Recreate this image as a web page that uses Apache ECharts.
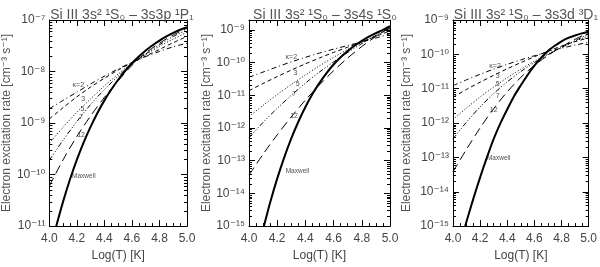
<!DOCTYPE html>
<html><head><meta charset="utf-8">
<script src="https://cdn.jsdelivr.net/npm/echarts@6/dist/echarts.min.js"></script>
<style>html,body{margin:0;padding:0;background:#fff}#c{width:600px;height:267px}</style>
</head><body><div id="c"></div>
<script>
// ---- data (log10 of rate, cm^-3 s^-1) ----
const logTk = [4.0,4.1,4.2,4.3,4.4,4.5,4.6,4.7,4.8,4.9,5.0];

// Panel 1: Si III 3s2 1S0 - 3s3p 1P1
const p1_k2  = [-8.72,-8.56,-8.40,-8.24,-8.09,-7.95,-7.82,-7.71,-7.61,-7.52,-7.45];
const p1_k3  = [-8.92,-8.70,-8.49,-8.30,-8.13,-7.97,-7.83,-7.70,-7.57,-7.44,-7.32];
const p1_k5  = [-9.39,-9.08,-8.79,-8.53,-8.28,-8.05,-7.84,-7.67,-7.51,-7.37,-7.24];
const p1_k7  = [-9.72,-9.33,-8.97,-8.64,-8.35,-8.09,-7.85,-7.66,-7.48,-7.32,-7.19];
const p1_k12 = [-10.22,-9.71,-9.26,-8.86,-8.50,-8.18,-7.88,-7.64,-7.45,-7.29,-7.16];
const p1_mT  = [4.05,4.10,4.15,4.20,4.25,4.30,4.35,4.40,4.45,4.50,4.55,4.60,4.65,4.70,4.75,4.80,4.85,4.90,4.95,5.00];
const p1_mx  = [-11.00,-10.52,-10.09,-9.71,-9.37,-9.07,-8.80,-8.56,-8.35,-8.16,-7.99,-7.84,-7.71,-7.59,-7.49,-7.40,-7.32,-7.25,-7.19,-7.14];

// Panel 2: Si III 3s2 1S0 - 3s4s 1S0
const p2_k2  = [-10.45,-10.29,-10.13,-9.98,-9.84,-9.71,-9.59,-9.48,-9.37,-9.25,-9.12];
const p2_k3  = [-10.86,-10.64,-10.43,-10.23,-10.04,-9.86,-9.69,-9.53,-9.37,-9.20,-9.03];
const p2_k5  = [-11.65,-11.31,-10.98,-10.67,-10.38,-10.10,-9.84,-9.60,-9.38,-9.17,-8.98];
const p2_k7  = [-12.30,-11.83,-11.40,-11.00,-10.63,-10.29,-9.98,-9.69,-9.42,-9.17,-8.95];
const p2_k12 = [-13.44,-12.80,-12.21,-11.66,-11.15,-10.68,-10.25,-9.86,-9.51,-9.20,-8.92];
const p2_mT  = [4.10,4.15,4.20,4.25,4.30,4.35,4.40,4.45,4.50,4.55,4.60,4.65,4.70,4.75,4.80,4.85,4.90,4.95,5.00];
const p2_mx  = [-15.10,-14.28,-13.55,-12.90,-12.32,-11.81,-11.36,-10.96,-10.62,-10.32,-10.06,-9.84,-9.65,-9.48,-9.34,-9.21,-9.10,-9.00,-8.89];

// Panel 3: Si III 3s2 1S0 - 3s3d 3D1
const p3_k2  = [-10.91,-10.74,-10.58,-10.43,-10.29,-10.16,-10.04,-9.92,-9.82,-9.73,-9.65];
const p3_k3  = [-11.25,-11.02,-10.81,-10.61,-10.42,-10.24,-10.07,-9.91,-9.76,-9.63,-9.52];
const p3_k5  = [-11.90,-11.56,-11.24,-10.95,-10.68,-10.43,-10.20,-9.99,-9.80,-9.62,-9.46];
const p3_k7  = [-12.46,-11.97,-11.53,-11.14,-10.80,-10.50,-10.24,-10.01,-9.80,-9.60,-9.41];
const p3_k12 = [-13.42,-12.76,-12.14,-11.58,-11.09,-10.67,-10.32,-10.03,-9.78,-9.56,-9.37];
const p3_mT  = [4.09,4.10,4.15,4.20,4.25,4.30,4.35,4.40,4.45,4.50,4.55,4.60,4.65,4.70,4.75,4.80,4.85,4.90,4.95,5.00];
const p3_mx  = [-15.00,-14.86,-14.20,-13.58,-13.00,-12.46,-12.00,-11.60,-11.22,-10.90,-10.60,-10.33,-10.10,-9.90,-9.75,-9.62,-9.52,-9.45,-9.39,-9.34];

// curve labels
const labelTexts = ['κ=2','3','5','7','12','Maxwell'];
const p1_lx = [4.21,4.245,4.24,4.23,4.23,4.165];
const p1_ly = [-8.27,-8.53,-8.73,-8.88,-9.24,-10.03];
const p2_lx = [4.30,4.33,4.345,4.32,4.32,4.26];
const p2_ly = [-9.82,-10.32,-10.66,-10.96,-11.64,-13.33];
const p3_lx = [4.31,4.33,4.33,4.33,4.30,4.25];
const p3_ly = [-10.35,-10.63,-10.87,-11.20,-11.61,-13.02];

const titles = ['Si III 3s² ¹S₀ – 3s3p ¹P₁','Si III 3s² ¹S₀ – 3s4s ¹S₀','Si III 3s² ¹S₀ – 3s3d ³D₁'];
const xTitle = 'Log(T) [K]';
const yTitle = 'Electron excitation rate [cm⁻³ s⁻¹]';
const yRanges = [[-11,-7],[-15,Math.log10(2e-9)],[-15,-9]];

// ---- layout / style ----
const grids = [
  {left:48, top:20, width:139, height:214},
  {left:249, top:20, width:141, height:214},
  {left:453, top:20, width:137, height:214}
];
const titleCenters = [117, 320, 521];
const nameGaps = [33, 36, 40];
const FONT = 'Liberation Sans, Arial, DejaVu Sans, sans-serif';
const SUP = {'-':'⁻','0':'⁰','1':'¹','2':'²','3':'³','4':'⁴','5':'⁵','6':'⁶','7':'⁷','8':'⁸','9':'⁹'};
function supFmt(v){
  if (Math.abs(v - Math.round(v)) > 1e-6) return '';
  return '10' + String(Math.round(v)).split('').map(c=>SUP[c]).join('');
}
const dashes = {k2:[5,3,1,3], k3:[4,3], k5:[1,2], k7:[5,2,1,2,1,2,1,2], k12:[9,5]};

const panels = [
  {k2:p1_k2,k3:p1_k3,k5:p1_k5,k7:p1_k7,k12:p1_k12,mT:p1_mT,mx:p1_mx,lx:p1_lx,ly:p1_ly},
  {k2:p2_k2,k3:p2_k3,k5:p2_k5,k7:p2_k7,k12:p2_k12,mT:p2_mT,mx:p2_mx,lx:p2_lx,ly:p2_ly},
  {k2:p3_k2,k3:p3_k3,k5:p3_k5,k7:p3_k7,k12:p3_k12,mT:p3_mT,mx:p3_mx,lx:p3_lx,ly:p3_ly}
];

const xAxis = [], yAxis = [], series = [], title = [];
panels.forEach((p, g) => {
  const [ymin, ymax] = yRanges[g];
  xAxis.push({type:'value', gridIndex:g, min:4, max:5, interval:0.2, position:'bottom',
    axisLine:{show:true, lineStyle:{color:'#000', width:1}},
    axisTick:{show:true, inside:true, length:6, lineStyle:{color:'#000'}},
    minorTick:{show:true, splitNumber:4, length:3, lineStyle:{color:'#000'}},
    axisLabel:{formatter:v=>v.toFixed(1), fontFamily:FONT, fontSize:12, color:'#444', margin:7},
    splitLine:{show:false},
    name:xTitle, nameLocation:'middle', nameGap:19,
    nameTextStyle:{fontFamily:FONT, fontSize:12, color:'#444'}});
  xAxis.push({type:'value', gridIndex:g, min:4, max:5, interval:0.2, position:'top',
    axisLine:{show:true, lineStyle:{color:'#000', width:1}},
    axisTick:{show:true, inside:true, length:6, lineStyle:{color:'#000'}},
    minorTick:{show:true, splitNumber:4, length:3, lineStyle:{color:'#000'}},
    axisLabel:{show:false}, splitLine:{show:false}});
  yAxis.push({type:'value', gridIndex:g, min:ymin, max:ymax, interval:1, position:'left',
    axisLine:{show:true, lineStyle:{color:'#000', width:1}},
    axisTick:{show:true, inside:true, length:6, lineStyle:{color:'#000'}},
    axisLabel:{formatter:supFmt, fontFamily:FONT, fontSize:12, color:'#444', margin:4, showMaxLabel:true, showMinLabel:true},
    splitLine:{show:false},
    name:yTitle, nameLocation:'middle', nameGap:nameGaps[g], nameRotate:90,
    nameTextStyle:{fontFamily:FONT, fontSize:12, color:'#555'}});
  yAxis.push({type:'value', gridIndex:g, min:ymin, max:ymax, interval:1, position:'right',
    axisLine:{show:true, lineStyle:{color:'#000', width:1}},
    axisTick:{show:true, inside:true, length:6, lineStyle:{color:'#000'}},
    axisLabel:{show:false}, splitLine:{show:false}});
  title.push({text:titles[g], left:titleCenters[g], top:3, textAlign:'center',
    textStyle:{fontFamily:FONT, fontSize:14, fontWeight:'normal', color:'#555'}});

  const xi = g*2, yi = g*2;
  ['k2','k3','k5','k7','k12'].forEach(k => {
    series.push({type:'line', xAxisIndex:xi, yAxisIndex:yi, showSymbol:false, symbol:'none',
      smooth:0.3, clip:true, silent:true,
      lineStyle:{color:'#000', width:1, type:dashes[k]},
      data:logTk.map((t,i)=>[t, p[k][i]])});
  });
  series.push({type:'line', xAxisIndex:xi, yAxisIndex:yi, showSymbol:false, symbol:'none',
    smooth:0.3, clip:true, silent:true, z:5,
    lineStyle:{color:'#000', width:2, type:'solid'},
    data:p.mT.map((t,i)=>[t, p.mx[i]])});
  // curve labels
  series.push({type:'scatter', xAxisIndex:xi, yAxisIndex:yi, symbolSize:0, silent:true, z:6,
    data:labelTexts.map((s,i)=>({value:[p.lx[i], p.ly[i], s],
      label:{show:true, position:'inside', formatter:s, fontFamily:FONT,
        fontSize: s==='Maxwell'?6.5:7, color:'#222', align: s==='Maxwell'?'left':'center'}}))});
  // minor log ticks on left/right y axes
  const mv = [];
  for (let n = Math.floor(ymin); n < Math.ceil(ymax); n++)
    for (let k = 2; k <= 9; k++) { const v = n + Math.log10(k); if (v > ymin && v < ymax) mv.push([4, v]); }
  series.push({type:'custom', xAxisIndex:xi, yAxisIndex:yi, silent:true, data:mv, clip:false,
    renderItem:(params, api) => {
      const a = api.coord([4, api.value(1)]), b = api.coord([5, api.value(1)]);
      return {type:'group', children:[
        {type:'line', shape:{x1:a[0], y1:Math.round(a[1])+0.5, x2:a[0]+3, y2:Math.round(a[1])+0.5}, style:{stroke:'#000', lineWidth:1}},
        {type:'line', shape:{x1:b[0], y1:Math.round(b[1])+0.5, x2:b[0]-3, y2:Math.round(b[1])+0.5}, style:{stroke:'#000', lineWidth:1}}
      ]};
    }});
});

const chart = echarts.init(document.getElementById('c'), null, {renderer:'canvas'});
chart.setOption({animation:false, backgroundColor:'#fff', title, grid:grids, xAxis, yAxis, series});
</script></body></html>
